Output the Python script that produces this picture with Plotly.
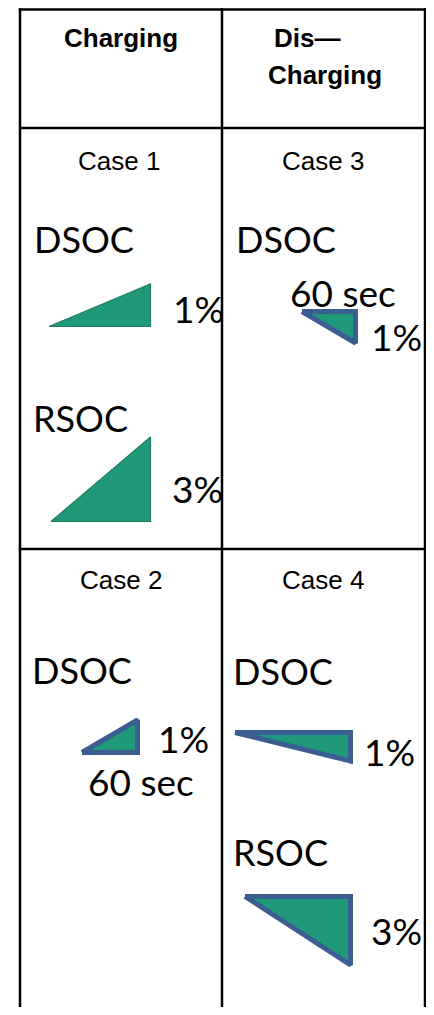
import plotly.graph_objects as go

# ---- content / data ----
header_labels = ["Charging", "Dis\u2014", "Charging"]
case_labels = ["Case 1", "Case 3", "Case 2", "Case 4"]

tri_case = ["Case 1", "Case 1", "Case 3", "Case 2", "Case 4", "Case 4"]
tri_soc = ["DSOC", "RSOC", "DSOC", "DSOC", "DSOC", "RSOC"]
tri_pct = ["1%", "3%", "1%", "1%", "1%", "3%"]
tri_time = ["", "", "60 sec", "60 sec", "", ""]
tri_dir = ["up", "up", "down", "up", "down", "down"]   # rising = charging, falling = discharging
tri_outlined = [False, False, True, True, True, True]

# ---- geometry (layout only) ----
W, H = 434, 1015
PAGE_MARGIN = 8   # default body margin of the html page
FIG_W, FIG_H = 418, 999
col_x = [20, 222, 425]
row_y = [9.5, 128, 549]
tri_right = [151, 151, 358, 140, 353, 353]
tri_anchor_y = [327, 522, 309, 755, 730, 894]   # base y for "up", top y for "down"
tri_w = [103, 101, 56, 58, 118, 108]
tri_h = [44, 86, 39, 40, 36, 76]

soc_pos = {0: (32, 239), 1: (31, 418), 2: (234, 239), 3: (30, 670), 4: (231, 671), 5: (231, 852)}
pct_pos = [(171, 308), (170, 488), (369, 336), (156, 738), (362, 751), (369, 930)]
time_pos = {2: (343, 292), 3: (141, 781)}

GREEN = "#20997A"
GREEN_EDGE = "#1C7C61"
BLUE = "#3A5E90"

TXT_FONT = "Lato, Calibri, 'Noto Sans', sans-serif"
HDR_FONT = "'Liberation Sans', Arial, sans-serif"

fig = go.Figure()

for i in range(len(tri_case)):
    r, a, w, h = tri_right[i], tri_anchor_y[i], tri_w[i], tri_h[i]
    if tri_outlined[i]:
        lw = 5
        ins = lw / 2
        tip = 0
    else:
        lw = 1.2
        ins = 0.5
        tip = 1
    if tri_dir[i] == "up":
        xs = [r - w + tip, r - ins, r - ins, r - w + tip]
        ys = [a - ins, a - h + ins * 2, a - ins, a - ins]
    else:
        xs = [r - w + tip, r - ins, r - ins, r - w + tip]
        ys = [a + ins, a + ins, a + h - ins * 2, a + ins]
    fig.add_trace(go.Scatter(
        x=xs, y=ys, mode="lines", fill="toself", fillcolor=GREEN,
        line=dict(color=BLUE if tri_outlined[i] else GREEN_EDGE, width=lw),
        hoverinfo="skip", showlegend=False))

# table lines
shapes = []
for x in col_x:
    shapes.append(dict(type="line", xref="x", yref="y", x0=x, x1=x, y0=row_y[0] - 1.2, y1=H + 5,
                       line=dict(color="black", width=2.5)))
for y in row_y:
    shapes.append(dict(type="line", xref="x", yref="y", x0=col_x[0] - 1.2, x1=col_x[-1] + 1.2, y0=y, y1=y,
                       line=dict(color="black", width=2.5)))

annotations = []
# headers
hdr_pos = [(121, 38), (307, 38), (325, 75)]
for (x, y), t in zip(hdr_pos, header_labels):
    annotations.append(dict(x=x, y=y, text="<b>" + t + "</b>", showarrow=False, xanchor="center",
                            yanchor="middle", font=dict(family=HDR_FONT, size=26, color="black")))
# case labels
case_pos = [(119, 161), (323, 161), (121, 580), (323, 580)]
for (x, y), t in zip(case_pos, case_labels):
    annotations.append(dict(x=x, y=y, text=t, showarrow=False, xanchor="center", yanchor="middle",
                            font=dict(family=HDR_FONT, size=26, color="black")))
# SOC labels, percentages, durations
for i in range(len(tri_case)):
    if i in soc_pos:
        x, y = soc_pos[i]
        annotations.append(dict(x=x, y=y, text=tri_soc[i], showarrow=False, xanchor="left", yanchor="middle",
                                font=dict(family=TXT_FONT, size=36, color="black")))
    x, y = pct_pos[i]
    annotations.append(dict(x=x, y=y, text=tri_pct[i], showarrow=False, xanchor="left", yanchor="middle",
                            font=dict(family=TXT_FONT, size=37, color="black")))
    if tri_time[i]:
        x, y = time_pos[i]
        annotations.append(dict(x=x, y=y, text=tri_time[i], showarrow=False, xanchor="center", yanchor="middle",
                                font=dict(family=TXT_FONT, size=37, color="black")))

fig.update_layout(
    width=FIG_W, height=FIG_H, margin=dict(l=0, r=0, t=0, b=0),
    paper_bgcolor="white", plot_bgcolor="white",
    xaxis=dict(range=[PAGE_MARGIN, PAGE_MARGIN + FIG_W], visible=False, fixedrange=True),
    yaxis=dict(range=[PAGE_MARGIN + FIG_H, PAGE_MARGIN], visible=False, fixedrange=True),
    shapes=shapes, annotations=annotations, showlegend=False,
)
fig.write_html("out.html", config={"displayModeBar": False})
